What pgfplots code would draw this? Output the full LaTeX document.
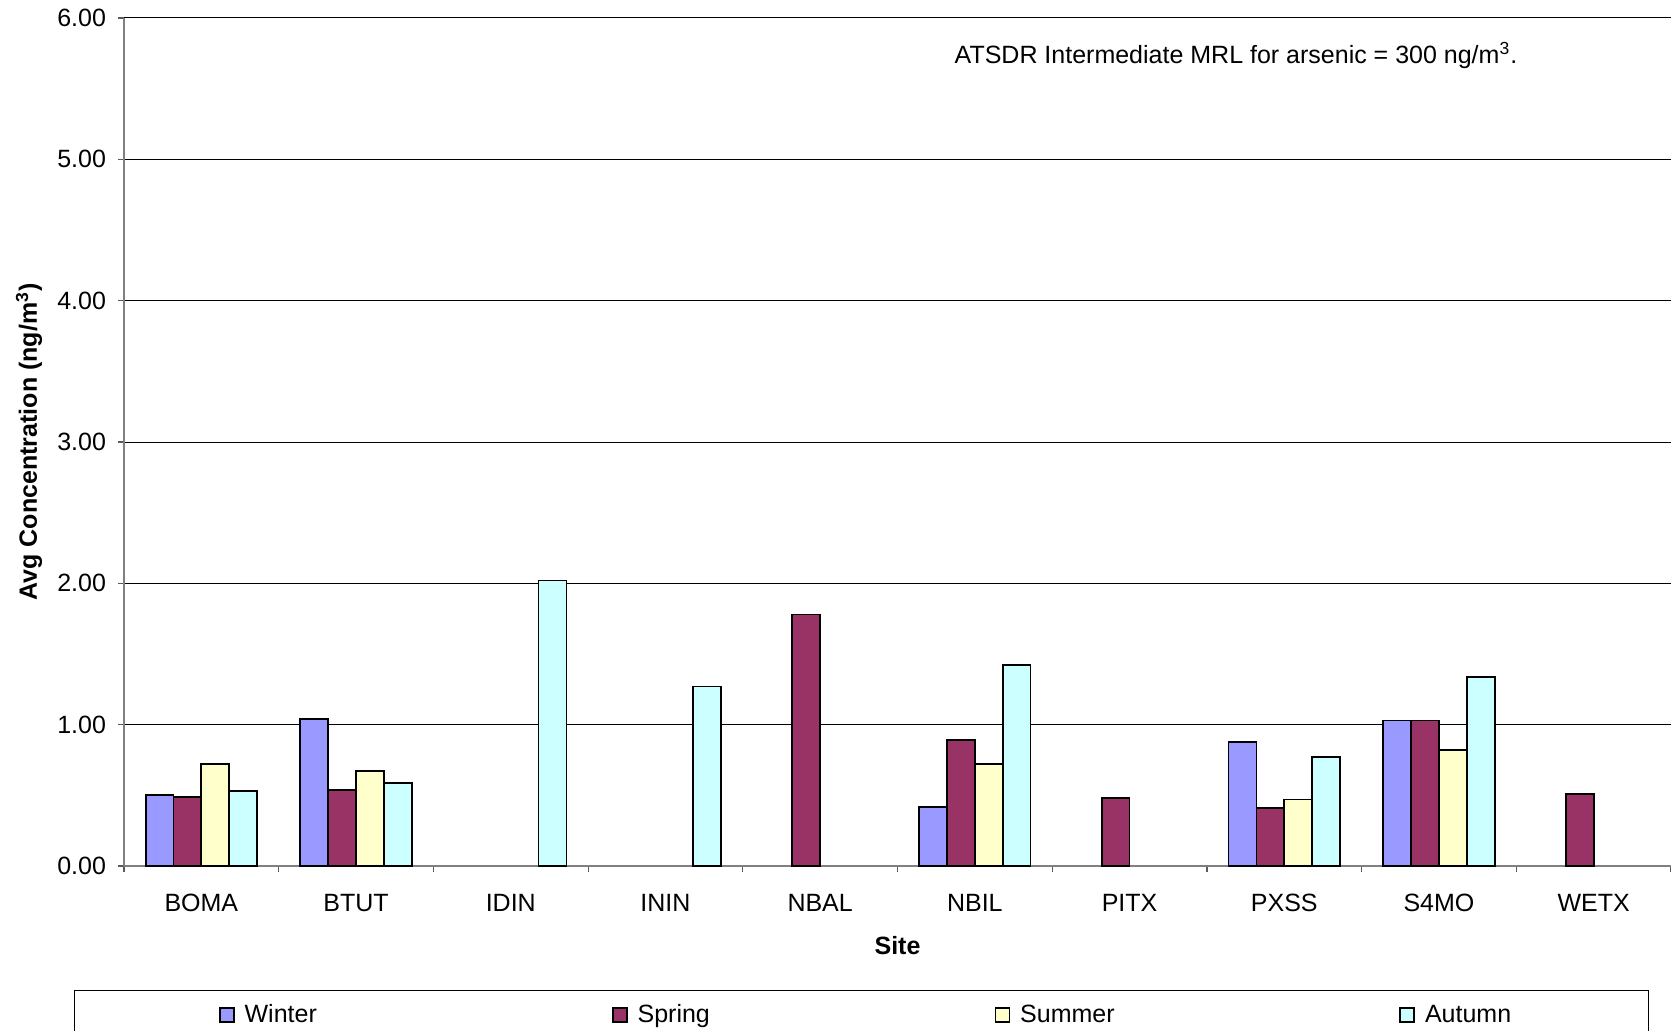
\documentclass[border=0pt]{standalone}
\usepackage{fontspec}
\setmainfont{Liberation Sans}
\usepackage{pgfplots}
\usepackage{pgfplotstable}
\pgfplotsset{compat=1.18}

\definecolor{winter}{HTML}{9999FF}
\definecolor{spring}{HTML}{993366}
\definecolor{summer}{HTML}{FFFFCC}
\definecolor{autumn}{HTML}{CCFFFF}
\definecolor{axisgray}{HTML}{808080}

% Sites: 0 BOMA, 1 BTUT, 2 IDIN, 3 ININ, 4 NBAL, 5 NBIL, 6 PITX, 7 PXSS, 8 S4MO, 9 WETX
\pgfplotstableread{
x y
0 0.50
1 1.04
5 0.42
7 0.88
8 1.03
}\winterdata
\pgfplotstableread{
x y
0 0.49
1 0.54
4 1.78
5 0.89
6 0.48
7 0.41
8 1.03
9 0.51
}\springdata
\pgfplotstableread{
x y
0 0.72
1 0.67
5 0.72
7 0.47
8 0.82
}\summerdata
\pgfplotstableread{
x y
0 0.53
1 0.59
2 2.02
3 1.27
5 1.42
7 0.77
8 1.34
}\autumndata

\newcommand{\chartfont}{\fontsize{12.5}{15}\selectfont}

\pgfplotsset{
  swatch/.style={legend image code/.code={%
    \draw[##1, line width=0.8pt] (0pt,-3.5pt) rectangle (7pt,3.5pt);}},
}

\begin{document}
\begin{tikzpicture}
\begin{axis}[
  at={(62pt,82pt)}, anchor=south west,
  scale only axis, width=773.5pt, height=424pt,
  xmin=-0.5, xmax=9.5, ymin=0, ymax=6,
  axis lines*=left,
  axis line style={draw=axisgray, line width=0.9pt},
  ybar=0pt, bar width=0.18,
  xtick={-0.5,0.5,...,9.5},
  x tick label as interval,
  xticklabels={BOMA,BTUT,IDIN,ININ,NBAL,NBIL,PITX,PXSS,S4MO,WETX},
  ytick={0,1,...,6},
  ymajorgrids,
  grid style={black, line width=0.5pt},
  tick align=outside,
  major tick length=3pt,
  tick style={draw=axisgray!70!black, line width=0.6pt},
  tick label style={font=\chartfont},
  xticklabel style={yshift=-7.3pt, text height=9pt, text depth=0pt},
  yticklabel style={xshift=-2.5pt, /pgf/number format/.cd, fixed, fixed zerofill, precision=2, assume math mode=true},
  xlabel={Site},
  ylabel={Avg Concentration (ng/m\textsuperscript{3})},
  xlabel style={font=\chartfont\bfseries, at={(axis description cs:0.5,-0.094)}, anchor=center},
  ylabel style={font=\chartfont\bfseries, at={(axis description cs:-0.0614,0.5)}, anchor=center},
  legend columns=4,
  legend style={
    at={(axis description cs:-0.03264,-0.14623)}, anchor=north west,
    draw=black, line width=0.5pt, fill=white,
    inner xsep=72.5pt, inner ysep=5pt,
    font=\chartfont,
    nodes={inner xsep=5pt, inner ysep=2pt},
    cells={anchor=west},
  },
]
\addplot[fill=winter, draw=black, line width=0.9pt, swatch] table[x=x,y=y] {\winterdata};
\addlegendentry{\makebox[178.7pt][l]{Winter}}
\addplot[fill=spring, draw=black, line width=0.9pt, swatch] table[x=x,y=y] {\springdata};
\addlegendentry{\makebox[173.5pt][l]{Spring}}
\addplot[fill=summer, draw=black, line width=0.9pt, swatch] table[x=x,y=y] {\summerdata};
\addlegendentry{\makebox[184.6pt][l]{Summer}}
\addplot[fill=autumn, draw=black, line width=0.9pt, swatch] table[x=x,y=y] {\autumndata};
\addlegendentry{\makebox[34.1pt][l]{Autumn}}

\node[font=\chartfont, anchor=center] at (rel axis cs:0.7188,0.956)
  {ATSDR Intermediate MRL for arsenic = 300 ng/m\textsuperscript{3}.};
\end{axis}
\pgfresetboundingbox
\path[use as bounding box] (0,0) rectangle (835.5pt,515pt);
\end{tikzpicture}
\end{document}
